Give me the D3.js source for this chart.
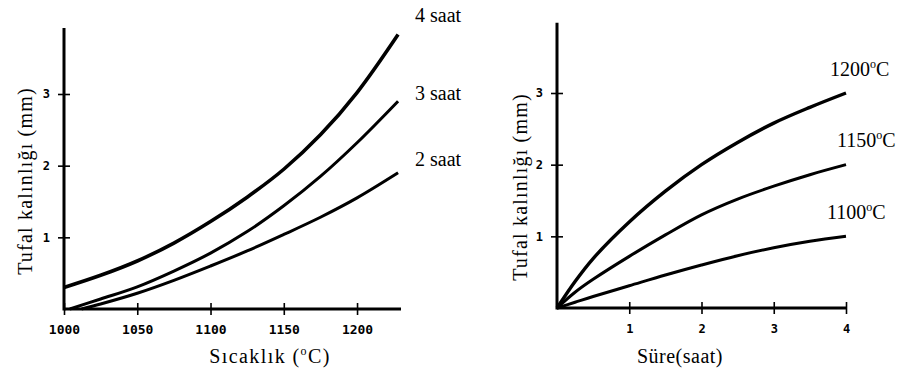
<!DOCTYPE html>
<html>
<head>
<meta charset="utf-8">
<script src="https://cdn.jsdelivr.net/npm/d3@7"></script>
<style>
  body { margin: 0; background: #fff; }
  svg { display: block; }
  .tick text { font-family: "DejaVu Sans Mono", monospace; font-weight: bold; }
  .lbl { font-family: "Liberation Serif", "Times New Roman", serif; fill: #000; }
</style>
</head>
<body>
<svg id="chart" width="904" height="374"></svg>
<script>
// left panel: thickness vs temperature
var tempX = [1000, 1025, 1050, 1075, 1100, 1125, 1150, 1175, 1200, 1228];
var saat4 = [0.30, 0.47, 0.67, 0.92, 1.22, 1.56, 1.95, 2.43, 3.02, 3.83];
var saat3X = [1004, 1025, 1050, 1075, 1100, 1125, 1150, 1175, 1200, 1228];
var saat3 = [0.00, 0.14, 0.31, 0.53, 0.78, 1.08, 1.44, 1.85, 2.32, 2.90];
var saat2X = [1012, 1025, 1050, 1075, 1100, 1125, 1150, 1175, 1200, 1228];
var saat2 = [0.00, 0.07, 0.22, 0.40, 0.60, 0.81, 1.04, 1.28, 1.55, 1.90];
var leftNames = ["4 saat", "3 saat", "2 saat"];
var leftXTicks = [1000, 1050, 1100, 1150, 1200];

// right panel: thickness vs time
var sure = [0, 0.25, 0.5, 1, 1.5, 2, 2.5, 3, 3.5, 4];
var c1200 = [0, 0.37, 0.69, 1.20, 1.63, 2.00, 2.31, 2.58, 2.80, 3.00];
var c1150 = [0, 0.22, 0.40, 0.72, 1.02, 1.30, 1.52, 1.70, 1.86, 2.00];
var c1100 = [0, 0.08, 0.16, 0.31, 0.46, 0.60, 0.73, 0.84, 0.93, 1.00];
var rightNames = ["1200", "1150", "1100"];
var rightXTicks = [1, 2, 3, 4];
var yTicks = [1, 2, 3];

var svg = d3.select("#chart");

var xL = d3.scaleLinear().domain([1000, 1230]).range([64, 401]);
var yL = d3.scaleLinear().domain([0, 3]).range([309, 94]);
var xR = d3.scaleLinear().domain([0, 4]).range([557, 846]);
var yR = d3.scaleLinear().domain([0, 3]).range([308, 93]);

function drawAxes(x, y, xticks, xMax, yMax, fsX) {
    var gx = svg.append("g").attr("transform", "translate(0," + y(0) + ")")
        .call(d3.axisBottom(x).tickValues(xticks).tickFormat(d3.format("d"))
            .tickSizeInner(6).tickSizeOuter(0).tickPadding(10));
    gx.select(".domain").remove();
    gx.append("line").attr("x1", x.range()[0]).attr("x2", x(xMax)).attr("stroke", "#000").attr("stroke-width", 3);
    gx.selectAll(".tick line").attr("y1", -6).attr("stroke-width", 1.6);
    gx.selectAll(".tick text").attr("font-size", fsX).attr("fill", "#000");

    var gy = svg.append("g").attr("transform", "translate(" + x.range()[0] + ",0)")
        .call(d3.axisLeft(y).tickValues(yTicks).tickFormat(d3.format("d"))
            .tickSizeInner(6).tickSizeOuter(0).tickPadding(8));
    gy.select(".domain").remove();
    gy.append("line").attr("y1", y(0) + 1.5).attr("y2", y(yMax)).attr("stroke", "#000").attr("stroke-width", 3);
    gy.selectAll(".tick line").attr("x1", 6).attr("x2", -6).attr("stroke-width", 1.6);
    gy.selectAll(".tick text").attr("font-size", 12).attr("fill", "#000");
}

drawAxes(xL, yL, leftXTicks, 1230, 3.92, 13);
drawAxes(xR, yR, rightXTicks, 4, 3.98, 12);

var lineL = d3.line().x(function (d) { return xL(d[0]); }).y(function (d) { return yL(d[1]); }).curve(d3.curveCatmullRom);
var lineR = d3.line().x(function (d) { return xR(d[0]); }).y(function (d) { return yR(d[1]); }).curve(d3.curveCatmullRom);

var leftSeries = [d3.zip(tempX, saat4), d3.zip(saat3X, saat3), d3.zip(saat2X, saat2)];
var rightSeries = [d3.zip(sure, c1200), d3.zip(sure, c1150), d3.zip(sure, c1100)];

svg.selectAll(".lc").data(leftSeries).enter().append("path")
    .attr("d", lineL).attr("fill", "none").attr("stroke", "#000")
    .attr("stroke-width", function (d, i) { return i == 0 ? 3.6 : 3; });
svg.selectAll(".rc").data(rightSeries).enter().append("path")
    .attr("d", lineR).attr("fill", "none").attr("stroke", "#000")
    .attr("stroke-width", function (d, i) { return i == 0 ? 3.4 : 3; });

// curve names
var leftLblY = [22, 100, 166];
leftNames.forEach(function (n, i) {
    svg.append("text").attr("class", "lbl").attr("x", 415).attr("y", leftLblY[i])
        .attr("font-size", 20).text(n);
});
var rightLblX = [830, 837, 827];
var rightLblY = [76, 147, 219];
rightNames.forEach(function (n, i) {
    var t = svg.append("text").attr("class", "lbl").attr("x", rightLblX[i]).attr("y", rightLblY[i])
        .attr("font-size", 20);
    t.append("tspan").text(n);
    t.append("tspan").attr("font-size", 12).attr("dy", -8).text("o");
    t.append("tspan").attr("dy", 8).text("C");
});

// axis titles
var tx = svg.append("text").attr("class", "lbl").attr("x", 270).attr("y", 363)
    .attr("text-anchor", "middle").attr("font-size", 20).attr("letter-spacing", 1.4);
tx.append("tspan").text("Sıcaklık (");
tx.append("tspan").attr("font-size", 12).attr("dy", -8).text("o");
tx.append("tspan").attr("dy", 8).text("C)");

svg.append("text").attr("class", "lbl").attr("x", 680).attr("y", 363)
    .attr("text-anchor", "middle").attr("font-size", 20).attr("letter-spacing", 0.5).text("Süre(saat)");

svg.append("text").attr("class", "lbl").attr("transform", "translate(32,181) rotate(-90)")
    .attr("text-anchor", "middle").attr("font-size", 20).attr("letter-spacing", 1.2).text("Tufal kalınlığı (mm)");
svg.append("text").attr("class", "lbl").attr("transform", "translate(527,187) rotate(-90)")
    .attr("text-anchor", "middle").attr("font-size", 20).attr("letter-spacing", 1.2).text("Tufal kalınlığı (mm)");
</script>
</body>
</html>
